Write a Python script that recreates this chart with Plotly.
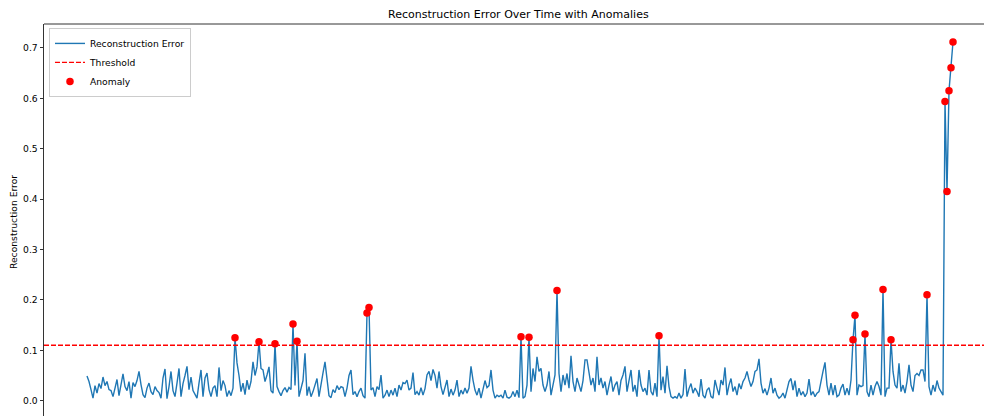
import plotly.graph_objects as go

# ---------------- data ----------------
threshold = 0.11

error_part1 = [
    0.049, 0.038, 0.022, 0.005, 0.030, 0.015, 0.034, 0.024, 0.047, 0.030,
    0.038, 0.022, 0.020, 0.008, 0.025, 0.042, 0.010, 0.030, 0.053, 0.028,
    0.020, 0.038, 0.005, 0.036, 0.028, 0.040, 0.058, 0.032, 0.012, 0.006,
    0.025, 0.035, 0.018, 0.012, 0.028, 0.020, 0.016, 0.005, 0.045, 0.063,
    0.004, 0.028, 0.058, 0.020, 0.008, 0.035, 0.064, 0.008, 0.034, 0.050,
    0.068, 0.022, 0.047, 0.020, 0.012, 0.005, 0.035, 0.061, 0.008, 0.045,
    0.055, 0.022, 0.008, 0.025, 0.030, 0.008, 0.066, 0.020, 0.040, 0.030,
    0.008,
]
error_part2 = [
    0.020, 0.010, 0.025, 0.125, 0.075, 0.050, 0.018, 0.035, 0.012,
    0.041, 0.022, 0.038, 0.077, 0.050, 0.067, 0.117, 0.064, 0.061, 0.038,
    0.051, 0.067, 0.020, 0.015, 0.113, 0.028, 0.018, 0.010, 0.020, 0.026,
    0.017, 0.026, 0.022, 0.152, 0.030, 0.118, 0.008, 0.022, 0.040, 0.094,
    0.010, 0.028, 0.008, 0.018, 0.030, 0.044, 0.008, 0.035, 0.055, 0.077,
    0.040, 0.010, 0.006, 0.022, 0.016, 0.030, 0.022, 0.028, 0.026, 0.008,
    0.025, 0.050, 0.061, 0.012, 0.018, 0.008, 0.018, 0.025, 0.010, 0.005,
    0.174, 0.185,
]
error_part3 = [
    0.021, 0.026, 0.008, 0.028, 0.022, 0.051, 0.005, 0.011,
    0.021, 0.008, 0.021, 0.011, 0.025, 0.008, 0.031, 0.021, 0.036, 0.034,
    0.041, 0.021, 0.025, 0.056, 0.012, 0.018, 0.011, 0.026, 0.011, 0.024,
    0.051, 0.058, 0.040, 0.062, 0.050, 0.025, 0.058, 0.028, 0.012, 0.026,
    0.041, 0.008, 0.023, 0.011, 0.021, 0.041, 0.008, 0.021, 0.013, 0.025,
    0.015, 0.025, 0.068, 0.041, 0.021, 0.011, 0.025, 0.005, 0.021, 0.040,
    0.026, 0.030, 0.061, 0.021, 0.005, 0.011, 0.008, 0.011, 0.005, 0.021,
    0.007, 0.005, 0.008,
]
error_part4 = [
    0.018, 0.008, 0.021, 0.006, 0.127, 0.005, 0.008,
    0.031, 0.126, 0.018, 0.064, 0.038, 0.087, 0.058, 0.064, 0.031, 0.018,
    0.031, 0.058, 0.011, 0.031, 0.051, 0.2185, 0.054, 0.018, 0.051, 0.031,
    0.054, 0.025, 0.089, 0.038, 0.018, 0.045, 0.031, 0.018, 0.040, 0.081,
    0.081, 0.056, 0.031, 0.045, 0.018, 0.087, 0.031, 0.045, 0.025, 0.038,
    0.011, 0.031, 0.048, 0.018, 0.031, 0.038, 0.011, 0.040, 0.051, 0.068,
    0.018, 0.040, 0.061, 0.018, 0.031, 0.008, 0.061, 0.031, 0.018, 0.025,
    0.011, 0.061, 0.018, 0.011,
]
error_part5 = [
    0.035, 0.008, 0.129, 0.021, 0.048, 0.015, 0.069, 0.028, 0.008, 0.005,
    0.008, 0.005, 0.015, 0.005, 0.012, 0.063, 0.008, 0.024, 0.034, 0.015,
    0.025, 0.018, 0.008, 0.043, 0.011, 0.005, 0.021, 0.026, 0.008, 0.005,
    0.041, 0.025, 0.011, 0.041, 0.031, 0.066, 0.011, 0.031, 0.044, 0.018,
    0.028, 0.011, 0.034, 0.023, 0.038, 0.045, 0.058, 0.041, 0.028, 0.038,
    0.058, 0.061, 0.083, 0.035, 0.015, 0.024, 0.011, 0.025, 0.045, 0.015,
    0.025, 0.011, 0.005, 0.008, 0.015, 0.005, 0.025, 0.038, 0.044, 0.021,
    0.040,
]
error_part6 = [
    0.008, 0.025, 0.011, 0.018, 0.008, 0.015, 0.043, 0.011, 0.018, 0.008,
    0.015, 0.018, 0.035, 0.058, 0.076, 0.031, 0.011, 0.035, 0.011, 0.031,
    0.008, 0.011, 0.025, 0.033, 0.011, 0.025, 0.011, 0.041, 0.121, 0.1696,
    0.011, 0.031, 0.028, 0.030, 0.1325, 0.018, 0.008, 0.031, 0.011, 0.028,
    0.038, 0.028, 0.011, 0.2205, 0.008, 0.025, 0.025, 0.121, 0.058, 0.031,
    0.025, 0.074, 0.018, 0.031, 0.015, 0.038, 0.071, 0.031, 0.018, 0.050,
    0.054, 0.050, 0.061, 0.061, 0.038, 0.21, 0.028, 0.011, 0.031, 0.018,
    0.040, 0.025, 0.018, 0.011,
    0.594, 0.415, 0.615, 0.661, 0.712,
]

reconstruction_error = (error_part1 + error_part2 + error_part3 +
                        error_part4 + error_part5 + error_part6)
time_index = list(range(len(reconstruction_error)))

anomaly_index = [i for i, v in enumerate(reconstruction_error) if v > threshold]
anomaly_error = [reconstruction_error[i] for i in anomaly_index]

y_tick_values = [0.0, 0.1, 0.2, 0.3, 0.4, 0.5, 0.6, 0.7]
y_tick_labels = ["0.0", "0.1", "0.2", "0.3", "0.4", "0.5", "0.6", "0.7"]

# ---------------- figure ----------------
FONT = "DejaVu Sans, Verdana, sans-serif"
AX = "#333333"

fig = go.Figure()
fig.add_trace(go.Scatter(
    x=time_index, y=reconstruction_error, mode="lines",
    name="Reconstruction Error",
    line=dict(color="#1f77b4", width=1.4),
    legendrank=1,
))
fig.add_trace(go.Scatter(
    x=anomaly_index, y=anomaly_error, mode="markers",
    name="Anomaly",
    marker=dict(color="red", size=7.5),
    legendrank=3,
))

fig.add_shape(
    type="line", xref="paper", x0=0, x1=1, yref="y",
    y0=threshold, y1=threshold,
    line=dict(color="red", width=1.4, dash="5px,2px"),
    showlegend=True, name="Threshold", legendrank=2,
)
# top spine
fig.add_shape(
    type="line", xref="paper", yref="paper", x0=0, x1=1, y0=1, y1=1,
    line=dict(color=AX, width=1),
)

fig.update_layout(
    width=984, height=416,
    margin=dict(l=44, r=0, t=24, b=0),
    paper_bgcolor="white", plot_bgcolor="white",
    font=dict(family=FONT, size=9.2, color="black"),
    showlegend=True,
    legend=dict(
        x=0.0053, y=0.99, xanchor="left", yanchor="top",
        bgcolor="rgba(255,255,255,0.85)", bordercolor="#cccccc",
        borderwidth=1, font=dict(family=FONT, size=9.2, color="black"),
        itemwidth=30, traceorder="normal",
    ),
    xaxis=dict(
        range=[-21.5, 448.5], showticklabels=False, showgrid=False,
        zeroline=False, showline=False, ticks="",
    ),
    yaxis=dict(
        range=[-0.0304, 0.7476], tickvals=y_tick_values, ticktext=y_tick_labels,
        ticks="outside", ticklen=3.5, tickwidth=1, tickcolor=AX,
        showline=True, linecolor=AX, linewidth=1,
        showgrid=False, zeroline=False,
        tickfont=dict(family=FONT, size=9.2, color="black"),
    ),
    annotations=[
        dict(text="Reconstruction Error Over Time with Anomalies",
             xref="paper", yref="paper", x=(518 - 44) / 940, y=1 + (24 - 15) / 392,
             xanchor="center", yanchor="middle", showarrow=False,
             font=dict(family=FONT, size=11, color="black")),
        dict(text="Reconstruction Error", textangle=-90,
             xref="paper", yref="paper", x=(14 - 44) / 940, y=(416 - 222) / 392,
             xanchor="center", yanchor="middle", showarrow=False,
             font=dict(family=FONT, size=9.2, color="black")),
    ],
)

fig.write_html("out.html")
